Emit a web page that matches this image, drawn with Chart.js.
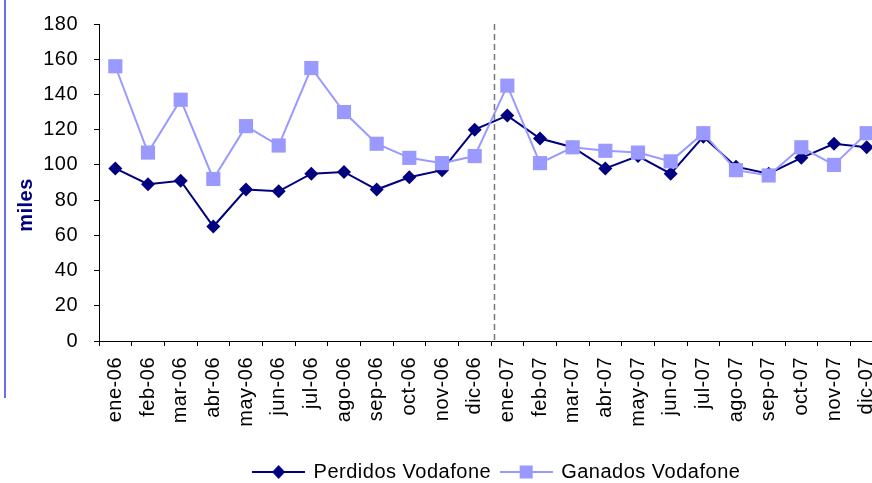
<!DOCTYPE html>
<html>
<head>
  <title>Perdidos y Ganados Vodafone</title>
  <script src="https://cdn.jsdelivr.net/npm/chart.js@4.4.1/dist/chart.umd.min.js"></script>
  <style>
html, body {
  margin: 0;
  padding: 0;
  overflow: hidden;
  background: #fff;
}

.chart-container {
  position: relative;
  width: 872px;
  height: 483px;
  overflow: hidden;
}

.side-bar {
  position: absolute;
  left: 4px;
  top: 0;
  width: 2px;
  height: 398px;
  background: #6b6bf5;
}

#vodafoneChart {
  position: absolute;
  left: 0;
  top: 0;
}
  </style>
</head>
<body>
  <div class="chart-container">
    <div class="side-bar"></div>
    <canvas id="vodafoneChart" width="994" height="483" style="width: 994px; height: 483px;"></canvas>
  </div>
  <script type="text/javascript">
    // months, 2006-2007
    var months = ['ene-06', 'feb-06', 'mar-06', 'abr-06', 'may-06', 'jun-06', 'jul-06', 'ago-06',
                  'sep-06', 'oct-06', 'nov-06', 'dic-06', 'ene-07', 'feb-07', 'mar-07', 'abr-07',
                  'may-07', 'jun-07', 'jul-07', 'ago-07', 'sep-07', 'oct-07', 'nov-07', 'dic-07'];

    // clientes en miles
    var perdidos = [98, 89, 91, 65, 86, 85, 95, 96, 86, 93, 97, 120,
                    128, 115, 110, 98, 105, 95, 116, 99, 95, 104, 112, 110];
    var ganados = [156, 107, 137, 92, 122, 111, 155, 130, 112, 104, 101, 105,
                   145, 101, 110, 108, 107, 102, 118, 97, 94, 110, 100, 118];

    var yMin = 0;
    var yMax = 180;
    var yStep = 20;
    var splitAfter = 'dic-06';

    var navy = '#000080';
    var lilac = '#9999ff';
    var font = '"Liberation Sans", Arial, sans-serif';

    // small line + marker icon for the legend
    function legendIcon(color, shape) {
      var c = document.createElement('canvas');
      c.width = 53;
      c.height = 16;
      var ctx = c.getContext('2d');
      ctx.strokeStyle = color;
      ctx.lineWidth = 2;
      ctx.beginPath();
      ctx.moveTo(0, 8);
      ctx.lineTo(53, 8);
      ctx.stroke();
      ctx.fillStyle = color;
      ctx.beginPath();
      if (shape == 'diamond') {
        ctx.moveTo(26.5, 1);
        ctx.lineTo(33, 8);
        ctx.lineTo(26.5, 15);
        ctx.lineTo(20, 8);
        ctx.closePath();
      } else {
        ctx.rect(20, 1.5, 13, 13);
      }
      ctx.fill();
      return c;
    }

    var icons = [legendIcon(navy, 'diamond'), legendIcon(lilac, 'square')];

    // the original text is set a bit loose
    var looseText = {
      id: 'looseText',
      beforeLayout: function(chart) { chart.ctx.letterSpacing = '0.5px'; },
      beforeDraw: function(chart) { chart.ctx.letterSpacing = '0.5px'; }
    };

    // dashed separator between the two years (drawn a little right of the tick)
    var yearSplit = {
      id: 'yearSplit',
      afterDatasetsDraw: function(chart) {
        var x = chart.scales.x;
        var i = months.indexOf(splitAfter);
        var a = x.getPixelForValue(i);
        var b = x.getPixelForValue(i + 1);
        var px = Math.round((a + b) / 2 + (b - a) * 0.1) + 0.5;
        var ctx = chart.ctx;
        ctx.save();
        ctx.strokeStyle = '#777777';
        ctx.lineWidth = 1.5;
        ctx.setLineDash([6, 4]);
        ctx.beginPath();
        ctx.moveTo(px, chart.chartArea.top);
        ctx.lineTo(px, chart.chartArea.bottom);
        ctx.stroke();
        ctx.restore();
      }
    };

    // "miles" axis title, placed like the original
    var milesTitle = {
      id: 'milesTitle',
      afterDraw: function(chart) {
        var ctx = chart.ctx;
        ctx.save();
        ctx.translate(26, 205);
        ctx.rotate(-Math.PI / 2);
        ctx.fillStyle = navy;
        ctx.font = 'bold 20px ' + font;
        ctx.textAlign = 'center';
        ctx.textBaseline = 'middle';
        ctx.fillText('miles', 0, 0);
        ctx.restore();
      }
    };

    var ctx = document.getElementById('vodafoneChart').getContext('2d');
    var chart = new Chart(ctx, {
      type: 'line',
      data: {
        labels: months,
        datasets: [{
          label: 'Perdidos Vodafone',
          data: perdidos,
          borderColor: navy,
          backgroundColor: navy,
          borderWidth: 2,
          pointStyle: 'rectRot',
          pointRadius: 7,
          pointHoverRadius: 7,
          pointBackgroundColor: navy,
          pointBorderColor: navy,
          pointBorderWidth: 0,
          tension: 0,
          order: 1
        }, {
          label: 'Ganados Vodafone',
          data: ganados,
          borderColor: lilac,
          backgroundColor: lilac,
          borderWidth: 2,
          pointStyle: 'rect',
          pointRadius: 10,
          pointHoverRadius: 10,
          pointBackgroundColor: lilac,
          pointBorderColor: lilac,
          pointBorderWidth: 0,
          tension: 0,
          order: 0
        }]
      },
      options: {
        responsive: false,
        animation: false,
        layout: {
          padding: { top: 24, left: 0, right: 0, bottom: -9 }
        },
        scales: {
          x: {
            offset: true,
            grid: { offset: true, drawOnChartArea: false, tickLength: 5, color: '#000' },
            border: { color: '#000', width: 1 },
            ticks: {
              autoSkip: false,
              minRotation: 90,
              maxRotation: 90,
              padding: 11,
              color: '#000',
              font: { family: font, size: 20 }
            },
            afterFit: function(scale) { scale.height = 111; }
          },
          y: {
            min: yMin,
            max: yMax,
            grid: { drawOnChartArea: false, tickLength: 5, color: '#000' },
            border: { color: '#000', width: 1 },
            ticks: {
              stepSize: yStep,
              padding: 16,
              color: '#000',
              font: { family: font, size: 20 }
            },
            afterFit: function(scale) {
              scale.width = 99;
              scale.paddingTop = 0;
              scale.paddingBottom = 0;
            }
          },
          spare: {
            position: 'right',
            grid: { display: false },
            border: { display: false },
            ticks: { display: false },
            afterFit: function(scale) { scale.width = 111; }
          }
        },
        plugins: {
          tooltip: { enabled: false },
          legend: {
            position: 'bottom',
            labels: {
              usePointStyle: true,
              pointStyleWidth: 50,
              padding: 10,
              color: '#000',
              font: { family: font, size: 20 },
              sort: function(a, b) { return a.datasetIndex - b.datasetIndex; },
              generateLabels: function(chart) {
                var items = Chart.defaults.plugins.legend.labels.generateLabels(chart);
                items.forEach(function(item) {
                  item.pointStyle = icons[item.datasetIndex];
                });
                return items;
              }
            }
          }
        }
      },
      plugins: [looseText, yearSplit, milesTitle]
    });
  </script>
</body>
</html>
